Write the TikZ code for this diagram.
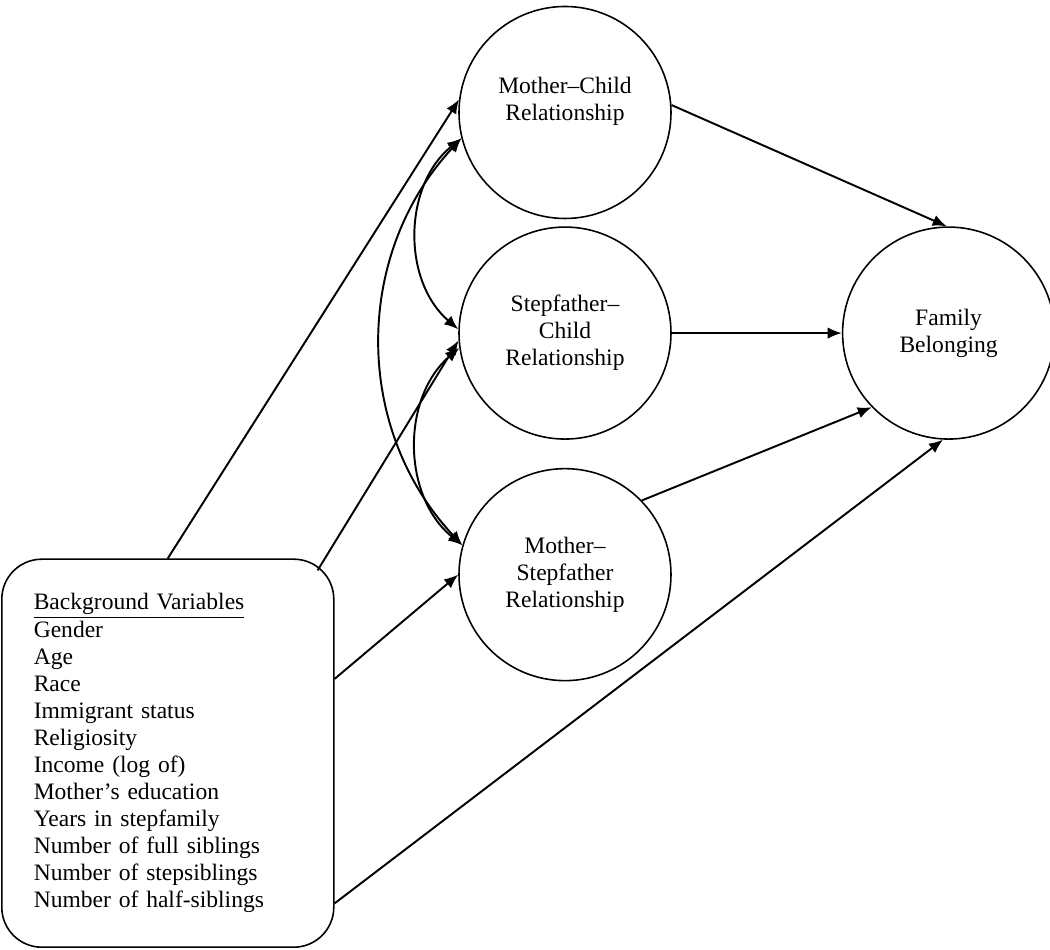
\documentclass[tikz,border=0pt]{standalone}
\usepackage{fontspec}
\setmainfont{Liberation Serif}
\usepackage{tikz}
\usetikzlibrary{arrows.meta}
\usetikzlibrary{positioning}
\tikzstyle{chemin} = [->,>={Latex[length=8pt,width=6.5pt]},line width=1.1pt]
\tikzstyle{covar} = [<->,>={Latex[length=8pt,width=6.5pt]},line width=1.1pt]
\tikzstyle{latent} = [circle,draw,line width=0.9pt,minimum size=4.24cm,inner sep=0pt,align=center]

\begin{document}
\begin{tikzpicture}[font=\fontsize{13.4}{15.4}\selectfont]

	\useasboundingbox (0,0) rectangle (21,19);

	\node[latent] (MC) at (11.3,16.75) {Mother–Child\\Relationship\\\mbox{}};
	\node[latent, below=0.14cm of MC] (SC) {Stepfather–\\Child\\Relationship};
	\node[latent, below=0.56cm of SC] (MS) {Mother–\\Stepfather\\Relationship};
	\node[latent, right=3.4cm of SC] (FB) {Family\\Belonging};

	\node[draw, rounded corners=0.8cm, line width=0.9pt, anchor=south west, align=left, text width=5.36cm, inner xsep=0.64cm, minimum height=7.76cm] (bg) at (0.02,0.04) {\underline{Background Variables}\\Gender\\Age\\Race\\Immigrant status\\Religiosity\\Income (log of)\\Mother’s education\\Years in stepfamily\\Number of full siblings\\Number of stepsiblings\\Number of half-siblings};

	%% Fleches
	\draw [chemin] (bg.north) -- (MC.173);
	\draw [chemin] ([shift={(-0.34,-0.24)}]bg.north east) -- (SC.184);
	\draw [chemin] (bg.24) -- (MS.180);
	\draw [chemin] (bg.-42) -- (FB.267);

	\draw [chemin] (MC.4) -- (FB.91);
	\draw [chemin] (SC.east) -- (FB.west);
	\draw [chemin] (MS.44) -- (FB.224);

	%% Covariances
	\draw [covar] (MC.194) to [bend right=50] (SC.178);
	\draw [covar] (SC.188) to [bend right=50] (MS.164);
	\draw [covar] (MC.194) to [bend right=43] (MS.164);

\end{tikzpicture}
\end{document}
